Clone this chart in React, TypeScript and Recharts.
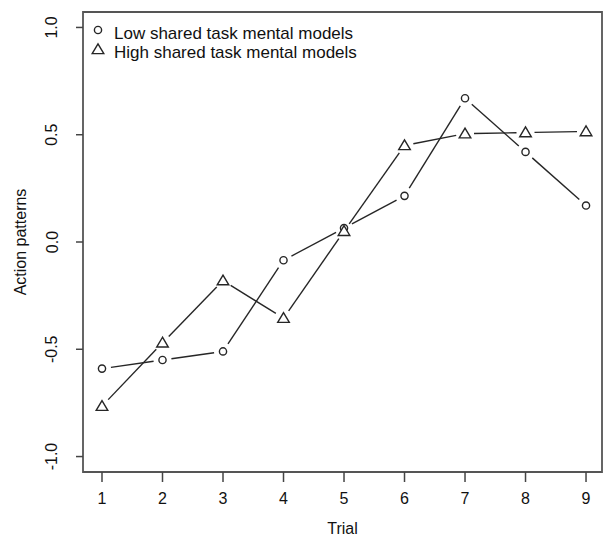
import React from 'react';
import { LineChart, Line, XAxis, YAxis, ReferenceArea, Legend } from 'recharts';

const trials = [1, 2, 3, 4, 5, 6, 7, 8, 9];
const lowShared = [-0.59, -0.55, -0.51, -0.085, 0.065, 0.215, 0.67, 0.42, 0.17];
const highShared = [-0.765, -0.47, -0.18, -0.355, 0.05, 0.45, 0.505, 0.51, 0.515];
const xTicks = [1, 2, 3, 4, 5, 6, 7, 8, 9];
const yTicks = [-1, -0.5, 0, 0.5, 1];
const seriesNames = ['Low shared task mental models', 'High shared task mental models'];

const data = trials.map((t, i) => ({ trial: t, low: lowShared[i], high: highShared[i] }));

const FONT = '"Liberation Sans", Arial, Helvetica, sans-serif';
const INK = '#262626';
const GAP = 9;
const X_DOMAIN: [number, number] = [0.686, 9.264];
const Y_DOMAIN: [number, number] = [-1.072, 1.072];

const circleMark = (cx: number, cy: number) => (
  <circle cx={cx} cy={cy} r={3.6} fill="#fff" stroke={INK} strokeWidth={1.4} />
);
const triMark = (cx: number, cy: number) => (
  <polygon
    points={`${cx},${cy - 5.6} ${cx - 5.8},${cy + 4.2} ${cx + 5.8},${cy + 4.2}`}
    fill="#fff"
    stroke={INK}
    strokeWidth={1.4}
  />
);

// R type="b": gapped line segments plus markers
const makeDot = (mark: (x: number, y: number) => React.ReactElement) => (props: any) => {
  const { cx, cy, index, points } = props;
  if (cx == null || cy == null) return <g key={`d${index}`} />;
  let seg: React.ReactElement | null = null;
  const next = points && points[index + 1];
  if (next && next.x != null && next.y != null) {
    const dx = next.x - cx;
    const dy = next.y - cy;
    const len = Math.sqrt(dx * dx + dy * dy);
    if (len > 2 * GAP) {
      const ux = dx / len;
      const uy = dy / len;
      seg = (
        <line
          x1={cx + ux * GAP}
          y1={cy + uy * GAP}
          x2={next.x - ux * GAP}
          y2={next.y - uy * GAP}
          stroke={INK}
          strokeWidth={1.4}
        />
      );
    }
  }
  return (
    <g key={`d${index}`}>
      {seg}
      {mark(cx, cy)}
    </g>
  );
};

const LowDot = makeDot(circleMark);
const HighDot = makeDot(triMark);

const XTick = (props: any) => {
  const { x, y, payload } = props;
  return (
    <text x={x} y={y + 6} textAnchor="middle" dominantBaseline="central" fontFamily={FONT} fontSize={16} fill="#111">
      {payload.value}
    </text>
  );
};

const YTick = (props: any) => {
  const { x, y, payload } = props;
  const cx = x - 22;
  return (
    <text
      x={cx}
      y={y}
      transform={`rotate(-90, ${cx}, ${y})`}
      textAnchor="middle"
      dominantBaseline="central"
      fontFamily={FONT}
      fontSize={16}
      fill="#111"
    >
      {Number(payload.value).toFixed(1)}
    </text>
  );
};

const LegendContent = () => (
  <svg width={300} height={46} style={{ display: 'block', overflow: 'visible' }}>
    <circle cx={10} cy={8} r={3.6} fill="#fff" stroke={INK} strokeWidth={1.4} />
    <text x={26} y={11} dominantBaseline="central" fontFamily={FONT} fontSize={17} fill="#111">
      {seriesNames[0]}
    </text>
    <polygon points="10,21.8 4.2,31.6 15.8,31.6" fill="#fff" stroke={INK} strokeWidth={1.4} />
    <text x={26} y={30.5} dominantBaseline="central" fontFamily={FONT} fontSize={17} fill="#111">
      {seriesNames[1]}
    </text>
  </svg>
);

export default function App() {
  return (
    <div style={{ position: 'absolute', left: 0, top: 0, background: '#fff' }}>
      <LineChart width={603} height={537} data={data} margin={{ top: 12, right: 1, bottom: 0, left: 0 }}>
        <XAxis
          dataKey="trial"
          type="number"
          domain={X_DOMAIN}
          ticks={xTicks}
          allowDataOverflow
          axisLine={false}
          tickLine={{ stroke: '#444', strokeWidth: 1.5 }}
          tickSize={10}
          tickMargin={10}
          height={65}
          tick={<XTick />}
          label={{ value: 'Trial', position: 'insideBottom', offset: 3, fontFamily: FONT, fontSize: 16, fill: '#111' }}
        />
        <YAxis
          type="number"
          domain={Y_DOMAIN}
          ticks={yTicks}
          allowDataOverflow
          axisLine={false}
          tickLine={{ stroke: '#444', strokeWidth: 1.5 }}
          tickSize={7}
          tickMargin={2}
          width={83}
          tick={<YTick />}
          label={{
            content: (p: any) => {
              const vb = p.viewBox || { x: 0, y: 12, width: 83, height: 460 };
              const lx = vb.x + 20;
              const ly = vb.y + vb.height / 2;
              return (
                <text
                  x={lx}
                  y={ly}
                  transform={`rotate(-90, ${lx}, ${ly})`}
                  textAnchor="middle"
                  dominantBaseline="central"
                  fontFamily={FONT}
                  fontSize={16}
                  fill="#111"
                >
                  Action patterns
                </text>
              );
            },
          }}
        />
        <ReferenceArea
          x1={X_DOMAIN[0]}
          x2={X_DOMAIN[1]}
          y1={Y_DOMAIN[0]}
          y2={Y_DOMAIN[1]}
          fill="none"
          fillOpacity={0}
          stroke="#555"
          strokeWidth={1.8}
          ifOverflow="visible"
        />
        <Legend
          verticalAlign="middle"
          align="center"
          layout="vertical"
          content={<LegendContent />}
          wrapperStyle={{ position: 'absolute', left: 88, top: 22, width: 300, height: 46 }}
        />
        <Line dataKey="low" stroke="none" strokeWidth={0} dot={LowDot} activeDot={false} isAnimationActive={false} legendType="none" />
        <Line dataKey="high" stroke="none" strokeWidth={0} dot={HighDot} activeDot={false} isAnimationActive={false} legendType="none" />
      </LineChart>
    </div>
  );
}
